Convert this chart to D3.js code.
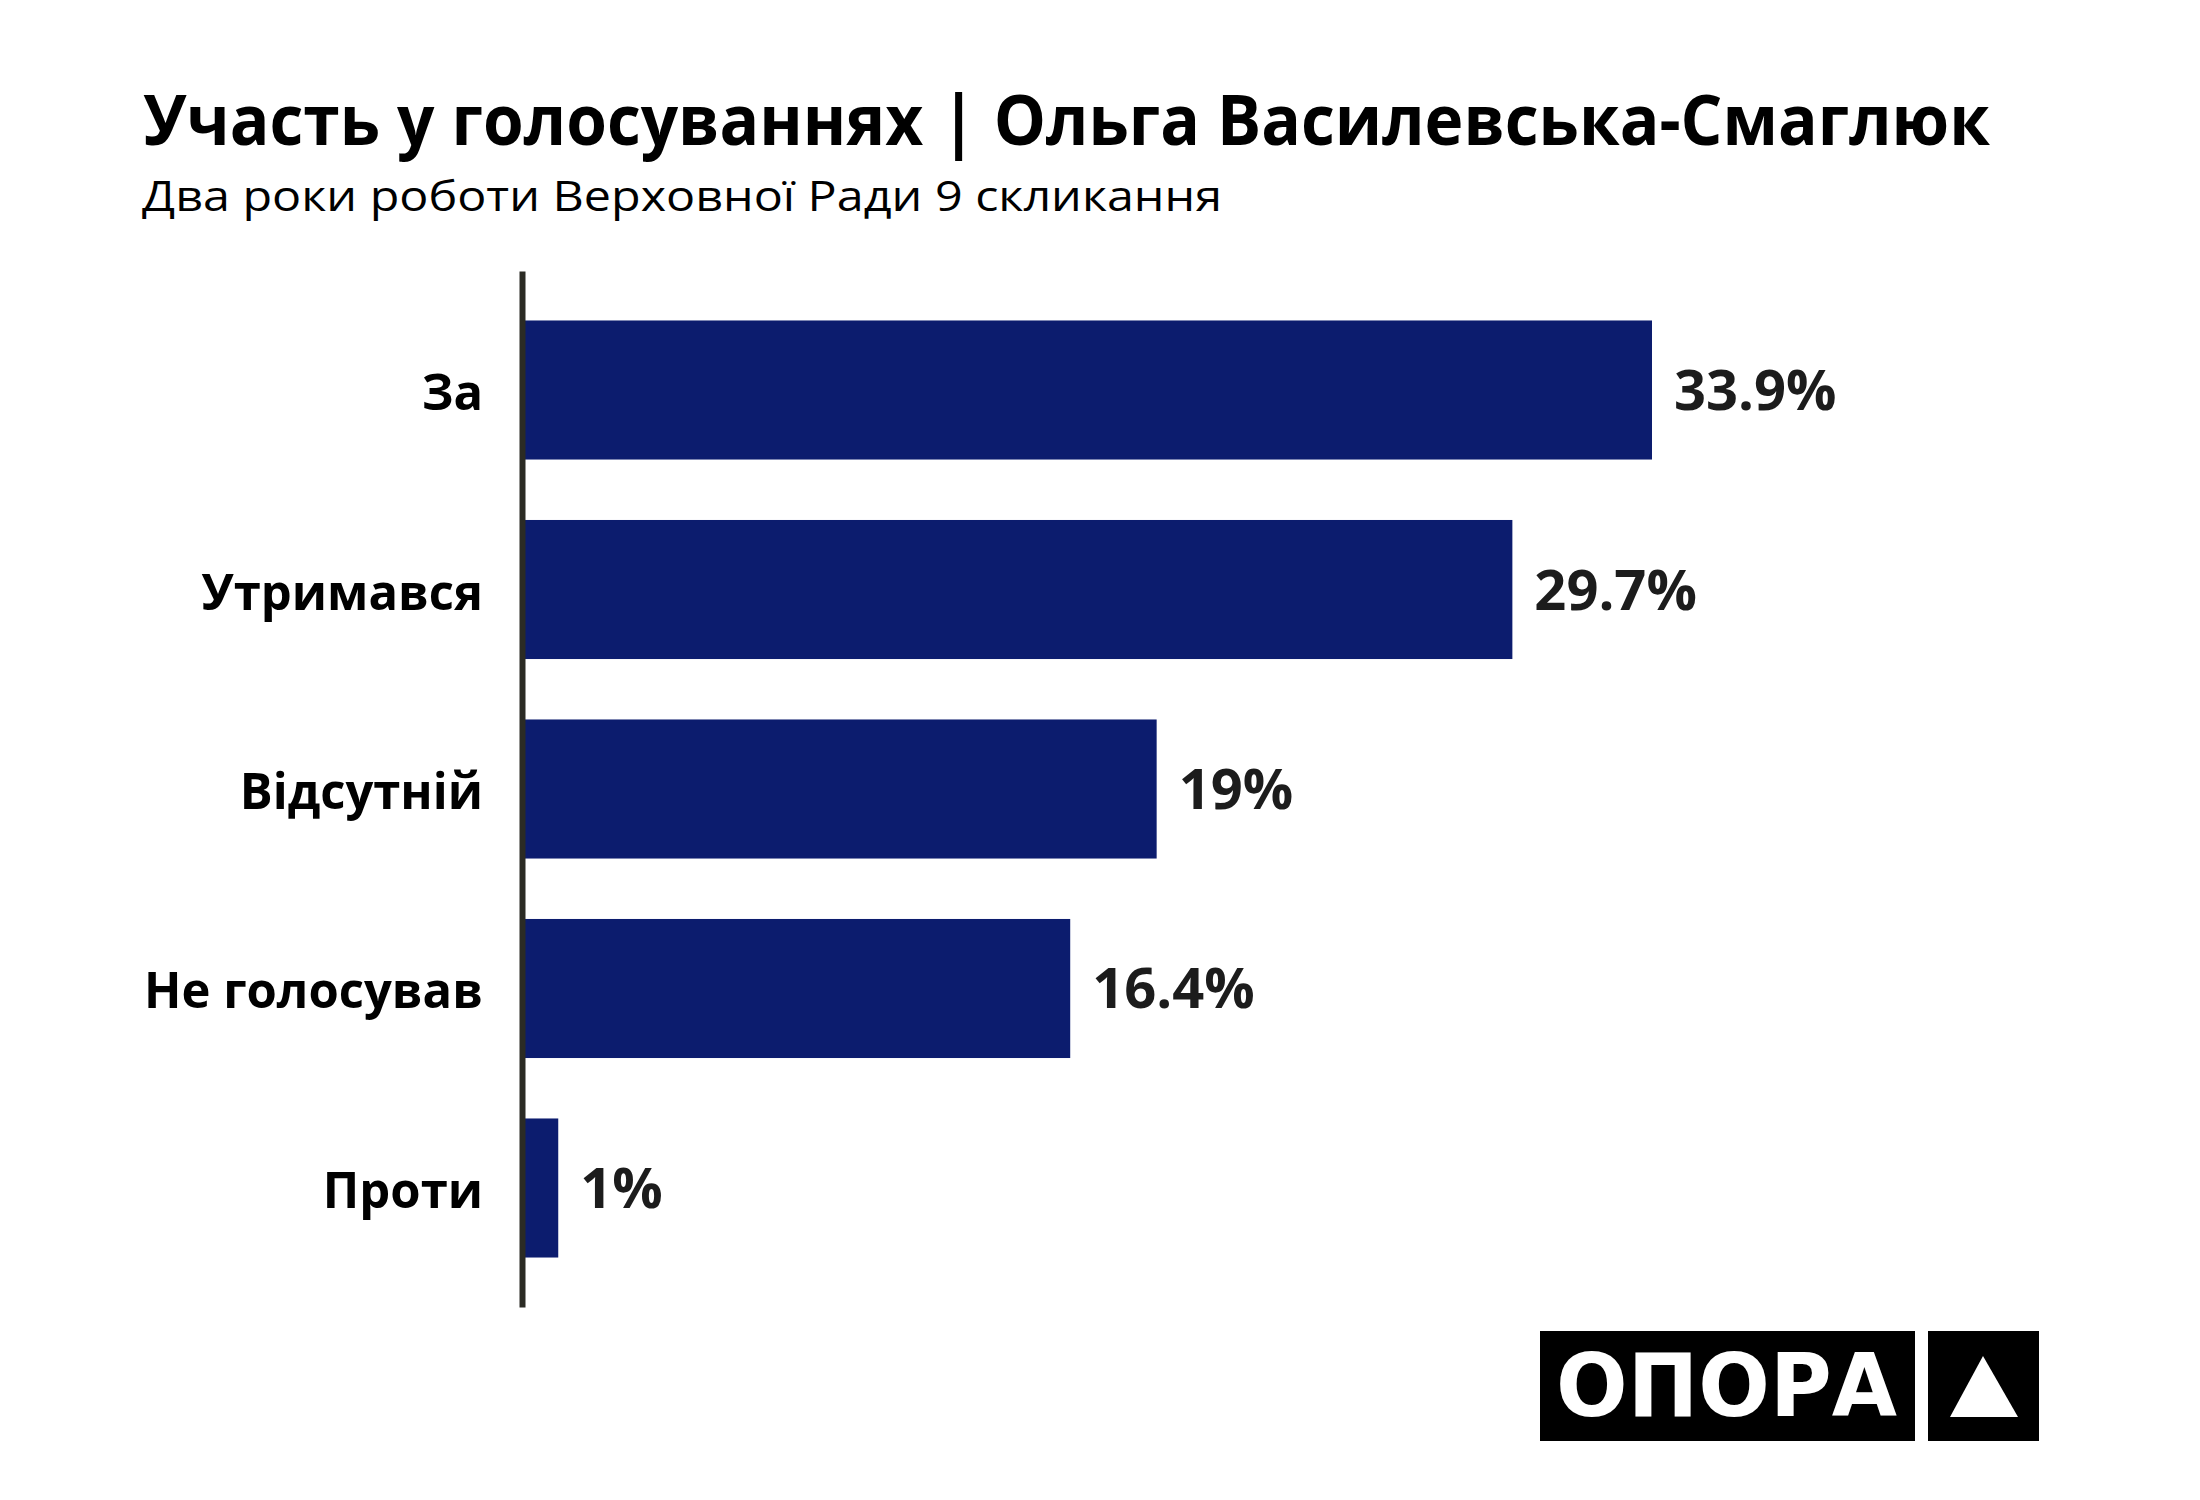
<!DOCTYPE html>
<html>
<head>
<meta charset="utf-8">
<script src="https://cdn.jsdelivr.net/npm/d3@7"></script>
<style>
  html, body { margin: 0; padding: 0; background: #fff; }
  svg { display: block; font-family: "Open Sans", "Noto Sans", sans-serif; }
</style>
</head>
<body>
<script>
// chart data
var categories = ["За", "Утримався", "Відсутній", "Не голосував", "Проти"];
var values = [33.9, 29.7, 19, 16.4, 1];
var valueLabels = ["33.9%", "29.7%", "19%", "16.4%", "1%"];

var titleText = "Участь у голосуваннях | Ольга Василевська-Смаглюк";
var subtitleText = "Два роки роботи Верховної Ради 9 скликання";
var logoText = "ОПОРА";

var W = 2200, H = 1500;
var axisX = 522;

var svg = d3.select("body").append("svg")
    .attr("width", W)
    .attr("height", H);

// stretch/squeeze text so it spans the width measured on the original
function fitText(sel, width) {
    sel.attr("textLength", width).attr("lengthAdjust", "spacingAndGlyphs");
}

// squeeze a group of labels by one common factor
function squeeze(sel, k) {
    sel.each(function () {
        var w = this.getComputedTextLength();
        d3.select(this).call(fitText, w * k);
    });
}

svg.append("text")
    .attr("x", 143)
    .attr("y", 145)
    .attr("font-size", 70)
    .attr("font-weight", 700)
    .attr("fill", "#000")
    .text(titleText)
    .call(fitText, 1847);

svg.append("text")
    .attr("x", 142)
    .attr("y", 211)
    .attr("font-size", 42)
    .attr("fill", "#000")
    .text(subtitleText)
    .call(fitText, 1080);

var x = d3.scaleLinear()
    .domain([0, d3.max(values)])
    .range([axisX + 3, 1652]);

var y = d3.scaleBand()
    .domain(categories)
    .range([271, 1307])
    .paddingInner(0.303)
    .paddingOuter(0.248);

var g = svg.append("g");

g.selectAll("rect.bar")
    .data(values)
    .enter().append("rect")
    .attr("class", "bar")
    .attr("x", x(0))
    .attr("y", function (d, i) { return y(categories[i]); })
    .attr("width", function (d) { return x(d) - x(0); })
    .attr("height", y.bandwidth())
    .attr("fill", "#0c1c6e");

g.selectAll("text.value")
    .data(values)
    .enter().append("text")
    .attr("class", "value")
    .attr("x", function (d) { return x(d) + 22; })
    .attr("y", function (d, i) { return y(categories[i]) + y.bandwidth() / 2 + 20; })
    .attr("font-size", 56)
    .attr("font-weight", 700)
    .attr("fill", "#1c1c1c")
    .text(function (d, i) { return valueLabels[i]; });

// left axis: only the vertical line and the category names
var yAxis = d3.axisLeft(y)
    .tickSize(0)
    .tickSizeOuter(0)
    .tickPadding(39);

var ax = svg.append("g")
    .attr("transform", "translate(" + axisX + ",0)")
    .call(yAxis);

ax.select(".domain")
    .attr("stroke", "#2b2b24")
    .attr("stroke-width", 6);

var tickText = ax.selectAll(".tick text")
    .attr("dy", null)
    .attr("y", 20)
    .attr("font-family", "\"Open Sans\", \"Noto Sans\", sans-serif")
    .attr("font-size", 50)
    .attr("font-weight", 700)
    .attr("fill", "#000");

// the original font is narrower: scale so the longest name is 339px wide
var longest = d3.max(tickText.nodes(), function (n) { return n.getComputedTextLength(); });
tickText.call(squeeze, 339 / longest);

// OPORA logo
var logo = svg.append("g").attr("class", "logo");
logo.append("rect")
    .attr("x", 1540).attr("y", 1331)
    .attr("width", 375).attr("height", 110)
    .attr("fill", "#000");
logo.append("rect")
    .attr("x", 1928).attr("y", 1331)
    .attr("width", 111).attr("height", 110)
    .attr("fill", "#000");
logo.append("text")
    .attr("x", 1556)
    .attr("y", 1416)
    .attr("font-family", "\"DejaVu Sans\", sans-serif")
    .attr("font-size", 87)
    .attr("font-weight", 700)
    .attr("fill", "#fff")
    .text(logoText)
    .call(fitText, 341);
logo.append("path")
    .attr("d", d3.line()([[1983, 1356], [2018, 1417], [1950, 1417]]) + "Z")
    .attr("fill", "#fff");
</script>
</body>
</html>
